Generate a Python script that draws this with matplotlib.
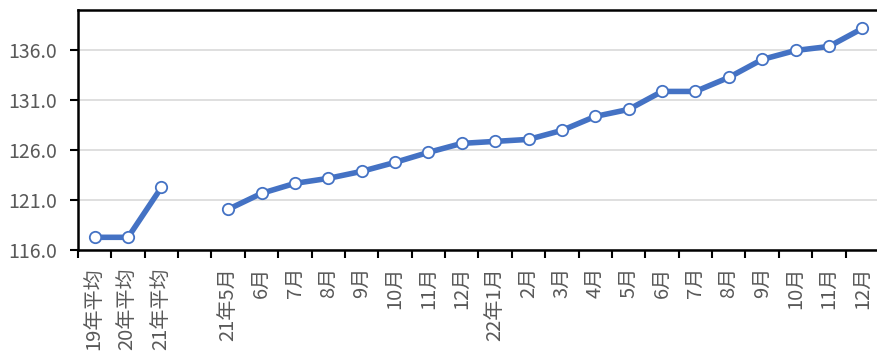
import matplotlib
matplotlib.use("Agg")
import matplotlib.pyplot as plt
import numpy as np

plt.rcParams['font.family'] = ['Noto Sans CJK SC', 'DejaVu Sans']

categories = ["19年平均", "20年平均", "21年平均", "",
              "21年5月", "6月", "7月", "8月", "9月", "10月", "11月", "12月",
              "22年1月", "2月", "3月", "4月", "5月", "6月", "7月", "8月",
              "9月", "10月", "11月", "12月"]
values = [117.3, 117.3, 122.3, np.nan,
          120.1, 121.7, 122.7, 123.2, 123.9, 124.8, 125.8, 126.7,
          126.9, 127.1, 128.0, 129.4, 130.1, 131.9, 131.9, 133.3,
          135.1, 136.0, 136.4, 138.2]
yticks = [116.0, 121.0, 126.0, 131.0, 136.0]

W, H = 877, 354
fig = plt.figure(figsize=(W/100, H/100), dpi=100)
left, right = 78, 879
top, bottom = 10, 250.3
ax = fig.add_axes([left/W, (H-bottom)/H, (right-left)/W, (bottom-top)/H])

x = np.arange(len(categories))
ax.plot(x, values, color='#4472C4', lw=4.0, marker='o', ms=8.2,
        mfc='white', mec='#4472C4', mew=1.3, solid_capstyle='round', zorder=3)

ax.set_xlim(-0.5, len(categories) - 0.5)
ax.set_ylim(116, 140.05)
ax.set_yticks(yticks)
ax.set_yticklabels([f"{v:.1f}" for v in yticks])
ax.grid(axis='y', color='#d9d9d9', lw=1.2)
ax.set_axisbelow(True)

ax.set_xticks(x)
ax.set_xticklabels(categories, rotation=90, va='top', ha='center')
ax.set_xticks(np.arange(-0.5, len(categories)), minor=True)
ax.tick_params(axis='x', which='major', length=0, pad=12, labelsize=14.5, labelcolor='#595959')
ax.tick_params(axis='x', which='minor', length=6, width=1.5, color='black', direction='out')
ax.tick_params(axis='y', length=6, width=1.5, color='black', labelsize=14, labelcolor='#595959', pad=9)

for s in ['left', 'top', 'bottom']:
    ax.spines[s].set_linewidth(1.8)
    ax.spines[s].set_color('black')
ax.spines['right'].set_visible(False)

fig.savefig('out.png', dpi=100)
